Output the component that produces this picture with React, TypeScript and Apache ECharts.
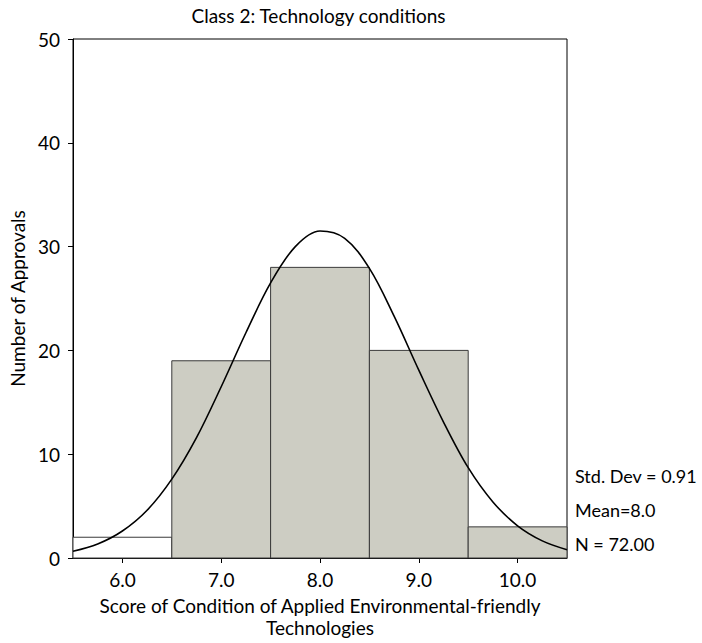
import React, { useEffect, useRef } from "react";
import * as echarts from "echarts";

const chartTitle = "Class 2: Technology conditions";
const xAxisName = "Score of Condition of Applied Environmental-friendly\nTechnologies";
const yAxisName = "Number of Approvals";

// histogram bins: [start, end]
const binStarts = [5.5, 6.5, 7.5, 8.5, 9.5];
const binEnds = [6.5, 7.5, 8.5, 9.5, 10.5];
const binCounts = [2, 19, 28, 20, 3];

const xTickValues = [6, 7, 8, 9, 10];

// fitted normal curve
const curveX = [5.5, 5.75, 6, 6.25, 6.5, 6.75, 7, 7.25, 7.5, 7.75, 8, 8.25, 8.5, 8.75, 9, 9.25, 9.5, 9.75, 10, 10.25, 10.5];
const curveY = [0.65, 1.35, 2.6, 4.6, 7.6, 11.6, 16.5, 21.7, 26.5, 30.0, 31.5, 30.8, 27.9, 23.3, 18.1, 13.1, 8.7, 5.4, 3.1, 1.65, 0.8];

const statsLabels = ["Std. Dev = 0.91", "Mean=8.0", "N = 72.00"];

const FONT = "Lato, 'Open Sans', sans-serif";

export default function App() {
  const ref = useRef<HTMLDivElement>(null);

  useEffect(() => {
    if (!ref.current) return;
    const chart = echarts.init(ref.current, undefined, { renderer: "svg" });

    const barData = binStarts.map((s, i) => [s, binEnds[i], binCounts[i]]);
    const lineData = curveX.map((x, i) => [x, curveY[i]]);

    const gridLeft = 70;
    const gridRight = 135;
    const gridTop = 39;
    const gridBottom = 85;
    const plotCenterX = gridLeft + (702 - gridLeft - gridRight) / 2;

    chart.setOption({
      animation: false,
      backgroundColor: "#ffffff",
      textStyle: { fontFamily: FONT },
      grid: {
        left: gridLeft,
        right: gridRight,
        top: gridTop,
        bottom: gridBottom,
        show: true,
        borderColor: "#000",
        borderWidth: 1,
        backgroundColor: "transparent",
      },
      xAxis: {
        type: "value",
        min: 5.5,
        max: 10.5,
        name: xAxisName,
        nameLocation: "middle",
        nameGap: 36,
        nameTextStyle: { fontSize: 19, color: "#000", fontFamily: FONT, lineHeight: 22 },
        axisLine: { show: true, lineStyle: { color: "#000", width: 1 } },
        axisTick: { show: true, inside: false, length: 5, lineStyle: { color: "#000" }, customValues: xTickValues },
        axisLabel: {
          show: true,
          customValues: xTickValues,
          margin: 12,
          fontSize: 19,
          color: "#000",
          fontFamily: FONT,
          formatter: (v: number) => v.toFixed(1),
        },
        splitLine: { show: false },
      },
      yAxis: {
        type: "value",
        min: 0,
        max: 50,
        interval: 10,
        name: yAxisName,
        nameLocation: "middle",
        nameGap: 46,
        nameTextStyle: { fontSize: 19, color: "#000", fontFamily: FONT },
        axisLine: { show: true, lineStyle: { color: "#000", width: 1 } },
        axisTick: { show: true, inside: false, length: 5, lineStyle: { color: "#000" } },
        axisLabel: { margin: 13, fontSize: 19, color: "#000", fontFamily: FONT },
        splitLine: { show: false },
      },
      graphic: [
        {
          type: "text",
          x: plotCenterX,
          y: 15,
          style: {
            text: chartTitle,
            fontSize: 19,
            fontFamily: FONT,
            fill: "#000",
            textAlign: "center",
            textVerticalAlign: "middle",
          },
        },
        ...statsLabels.map((t, i) => ({
          type: "text",
          x: 575,
          y: 476 + i * 34,
          style: {
            text: t,
            fontSize: 18,
            fontFamily: FONT,
            fill: "#000",
            textAlign: "left",
            textVerticalAlign: "middle",
          },
        })),
      ],
      series: [
        {
          type: "custom",
          data: barData,
          encode: { x: [0, 1], y: 2 },
          z: 2,
          renderItem: (params: any, api: any) => {
            const s = api.value(0);
            const e = api.value(1);
            const c = api.value(2);
            const p0 = api.coord([s, c]);
            const p1 = api.coord([e, 0]);
            return {
              type: "rect",
              shape: { x: p0[0], y: p0[1], width: p1[0] - p0[0], height: p1[1] - p0[1] },
              style: {
                fill: params.dataIndex === 0 ? "#ffffff" : "#cdcdc3",
                stroke: "#3a3a3a",
                lineWidth: 1,
              },
            };
          },
        },
        {
          type: "line",
          data: lineData,
          smooth: 0.35,
          showSymbol: false,
          symbol: "none",
          z: 3,
          lineStyle: { color: "#000", width: 1.6 },
        },
      ],
    });

    return () => chart.dispose();
  }, []);

  return <div ref={ref} style={{ width: 702, height: 643, position: "absolute", left: 0, top: 0 }} />;
}
